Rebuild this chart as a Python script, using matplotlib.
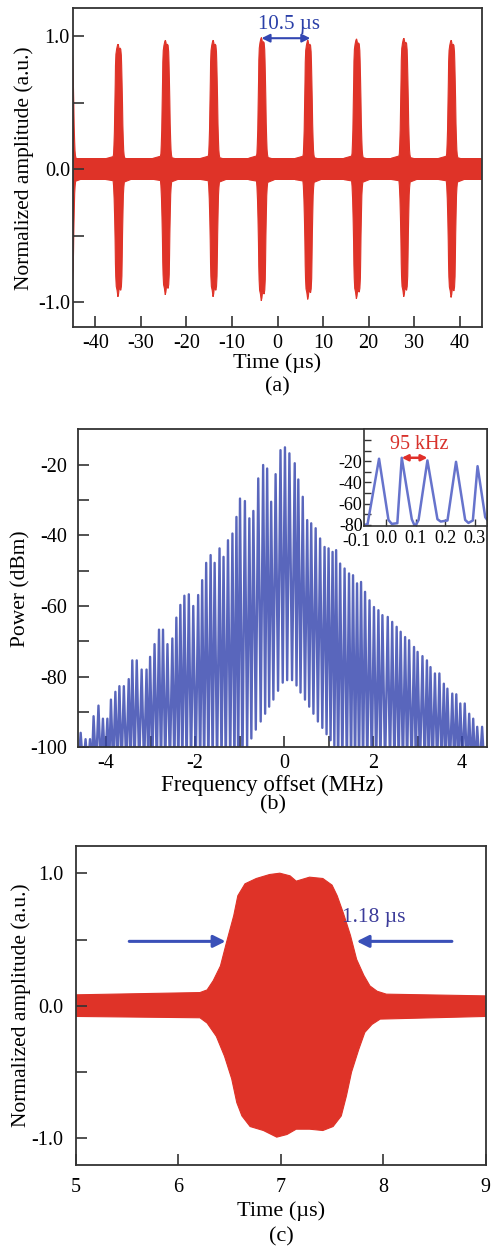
import numpy as np
import matplotlib
matplotlib.use('Agg')
import matplotlib.pyplot as plt

plt.rcParams['font.family'] = ['Liberation Serif', 'DejaVu Serif']
plt.rcParams['axes.unicode_minus'] = False

RED = '#df3328'
BLUE = '#3347b2'

# ---------------- data ----------------
# (c) single pulse envelope (us, a.u.)
c_up_t = [5.0, 6.21, 6.28, 6.34, 6.41, 6.47, 6.54, 6.58, 6.65, 6.76, 6.89, 6.99, 7.09, 7.15,
          7.28, 7.41, 7.50, 7.55, 7.61, 7.68, 7.74, 7.81, 7.87, 7.94, 8.03, 9.0]
c_up = [0.083, 0.10, 0.12, 0.19, 0.30, 0.48, 0.68, 0.83, 0.92, 0.96, 0.99, 1.0, 0.98, 0.94,
        0.97, 0.96, 0.91, 0.83, 0.70, 0.53, 0.35, 0.23, 0.15, 0.11, 0.088, 0.075]
c_lo_t = [5.0, 6.21, 6.28, 6.37, 6.45, 6.52, 6.57, 6.62, 6.70, 6.83, 6.96, 7.06, 7.15, 7.28,
          7.41, 7.51, 7.59, 7.64, 7.69, 7.76, 7.82, 7.89, 7.97, 9.0]
c_lo = [-0.08, -0.09, -0.13, -0.23, -0.38, -0.55, -0.73, -0.83, -0.91, -0.94, -0.99, -0.97,
        -0.93, -0.93, -0.94, -0.91, -0.83, -0.68, -0.50, -0.33, -0.20, -0.14, -0.10, -0.08]
c_pulse_center = 7.08

# (a) pulse train (pulses look ~1.4x broader than (c) at this scale)
a_centers = [-45.6, -34.9, -24.5, -14.0, -3.4, 6.8, 17.5, 27.9, 38.3]
a_tops = [0.93, 0.94, 0.97, 0.97, 0.99, 0.97, 0.98, 0.985, 0.97]
a_bots = [0.90, 0.96, 0.945, 0.96, 0.99, 0.98, 0.975, 0.96, 0.965]
a_width_scale = 1.4
a_base_t = [-45, 45]
a_base_up = [0.085, 0.085]
a_base_lo = [-0.085, -0.085]

# (b) comb spectrum: line frequencies (MHz), peak powers and valleys (dBm)
b_freq = [-4.57, -4.46, -4.36, -4.28, -4.17, -4.07, -3.97, -3.89, -3.79, -3.70, -3.60, -3.49,
          -3.41, -3.31, -3.20, -3.09, -3.01, -2.91, -2.81, -2.72, -2.62, -2.51, -2.42, -2.33,
          -2.24, -2.14, -2.04, -1.93, -1.84, -1.75, -1.65, -1.56, -1.45, -1.36, -1.26, -1.16,
          -1.07, -0.99, -0.88, -0.78, -0.69, -0.58, -0.47, -0.38, -0.29, -0.19, -0.08,
          0.02, 0.12, 0.24, 0.32, 0.42, 0.52, 0.61, 0.71, 0.81, 0.91, 1.00, 1.09, 1.17, 1.26,
          1.36, 1.46, 1.55, 1.64, 1.73, 1.82, 1.92, 2.02, 2.12, 2.21,
          2.33, 2.43, 2.53, 2.62, 2.72, 2.81, 2.92, 3.00, 3.11, 3.21, 3.29, 3.39, 3.49, 3.59,
          3.67, 3.78, 3.87, 3.96, 4.06, 4.16, 4.25, 4.34, 4.45]
b_peak = [-95.9, -97.7, -97.7, -91.2, -88.2, -91.9, -91.9, -86.5, -84.3, -82.7, -82.7, -80.7,
          -75.4, -75.4, -78.0, -78.0, -74.4, -70.8, -66.7, -66.7, -70.8, -69.2, -63.3, -59.7,
          -57.1, -56.7, -60.0, -56.9, -52.7, -47.8, -45.6, -47.8, -43.7, -46.1, -41.4, -39.5,
          -34.8, -29.6, -30.3, -35.2, -33.1, -23.9, -20.1, -21.1, -30.5, -22.7, -15.9,
          -15.1, -16.8, -19.6, -24.2, -29.1, -35.7, -36.6, -38.0, -40.9, -43.3, -43.7, -44.7,
          -44.2, -48.0, -49.4, -50.8, -51.3, -53.6, -53.2, -56.0, -58.4, -60.3, -61.2, -62.6,
          -63.1, -64.5, -65.9, -67.3, -68.8, -69.7, -71.6, -73.0, -74.2, -75.4, -77.3, -79.1,
          -79.1, -82.0, -83.4, -84.8, -85.0, -87.6, -87.6, -90.5, -91.9, -94.2, -94.2]
b_valley = ([-106] * 39
            + [-100, -97.5, -95, -92.7, -90.5, -88.5, -86.5, -84, -81.7, -81, -81, -82.5,
               -84.5, -86.5, -88.5, -90.5, -92.7, -94.5, -96.3, -98, -99.5]
            + [-106] * 35)

# (b) inset trace
in_f = [-0.075, -0.063, -0.024, 0.008, 0.019, 0.038, 0.053, 0.087, 0.098, 0.11, 0.14, 0.174,
        0.185, 0.208, 0.237, 0.268, 0.279, 0.294, 0.31, 0.336, 0.343]
in_p = [-80, -79.3, -17.7, -75.3, -79, -78.4, -16.8, -74.6, -81.6, -75.3, -19.3, -74.6,
        -76.8, -75.8, -20.6, -75.3, -78.1, -75.8, -24.7, -72.7, -75.3]

W, H = 494, 1247
fig = plt.figure(figsize=(W / 100, H / 100), dpi=100)


def box(l, t, r, b):
    return [l / W, 1 - b / H, (r - l) / W, (b - t) / H]


def style(ax, pad_x, pad_y):
    for s in ax.spines.values():
        s.set_color('#333333')
        s.set_linewidth(1.3)
    ax.tick_params(direction='in', length=8, width=1.2, color='#333333',
                   labelsize=14.5, top=False, right=False)
    ax.tick_params(axis='x', pad=pad_x)
    ax.tick_params(axis='y', pad=pad_y)


# ---------------- (a) ----------------
ax1 = fig.add_axes(box(72.7, 8.3, 482.3, 327.3))
ax1.fill_between(a_base_t, a_base_lo, a_base_up, color=RED, lw=0)
up_t = (np.array(c_up_t) - c_pulse_center) * a_width_scale
lo_t = (np.array(c_lo_t) - c_pulse_center) * a_width_scale
for c, top, bot in zip(a_centers, a_tops, a_bots):
    px = np.r_[c + up_t, (c + lo_t)[::-1]]
    py = np.r_[np.array(c_up) * top, (np.array(c_lo) * bot / 0.99)[::-1]]
    ax1.fill(px, py, color=RED, lw=0.8)
ax1.set_xlim(-45, 45)
ax1.set_ylim(-1.19, 1.21)
ax1.set_xticks(range(-40, 41, 10))
ax1.set_yticks([-1, -0.5, 0, 0.5, 1])
ax1.set_yticklabels(['-1.0', '', '0.0', '', '1.0'])
style(ax1, 5, 2)
ax1.annotate('', xy=(-3.5, 0.985), xytext=(7.2, 0.985),
             arrowprops=dict(arrowstyle='<|-|>', color=BLUE, lw=1.5, mutation_scale=12,
                             shrinkA=0, shrinkB=0))
ax1.text(2.45, 1.09, '10.5 µs', color='#2a3fa8', fontsize=15, ha='center', va='center')
ax1.set_xlabel('Time (µs)', fontsize=16)
ax1.xaxis.set_label_coords(0.5, -0.08)
ax1.set_ylabel('Normalized amplitude (a.u.)', fontsize=15.5)
ax1.yaxis.set_label_coords(-0.095, 0.5)
fig.text(277.5 / W, 1 - 387 / H, '(a)', fontsize=16, ha='center', va='center')

# ---------------- (b) ----------------
ax2 = fig.add_axes(box(78, 429.3, 487, 747.3))
f = np.array(b_freq)
mid = (f[:-1] + f[1:]) / 2
vx = np.r_[f[0] - 0.05, mid, f[-1] + 0.05]
tx = np.empty(2 * len(f) + 1)
ty = np.empty(2 * len(f) + 1)
tx[0::2] = vx
tx[1::2] = f
ty[0::2] = b_valley
ty[1::2] = b_peak
ax2.plot(tx, ty, color='#3444ad', lw=1.7, alpha=0.82)
ax2.set_xlim(-4.63, 4.56)
ax2.set_ylim(-100, -10)
ax2.set_xticks(range(-4, 5))
ax2.set_xticklabels(['-4', '', '-2', '', '0', '', '2', '', '4'])
ax2.set_yticks(range(-100, -19, 10))
ax2.set_yticklabels(['-100', '', '-80', '', '-60', '', '-40', '', '-20'])
style(ax2, 5, 8)
ax2.set_xlabel('Frequency offset (MHz)', fontsize=16.5)
ax2.xaxis.set_label_coords(0.475, -0.085)
ax2.set_ylabel('Power (dBm)', fontsize=15.5)
ax2.yaxis.set_label_coords(-0.115, 0.5)
fig.text(273 / W, 1 - 805 / H, '(b)', fontsize=16, ha='center', va='center')

# inset
ax3 = fig.add_axes(box(364, 429.3, 487, 526))
ax3.set_facecolor('white')
ax3.plot(in_f, in_p, color='#6673cc', lw=1.8)
ax3.set_xlim(-0.075, 0.342)
ax3.set_ylim(-81, 10)
ax3.set_xticks([0, 0.1, 0.2, 0.3])
ax3.set_xticklabels(['0.0', '0.1', '0.2', '0.3'])
ax3.set_yticks(range(-80, 1, 10))
ax3.set_yticklabels(['-80', '', '-60', '', '-40', '', '-20', '', ''])
for s in ax3.spines.values():
    s.set_color('#333333')
    s.set_linewidth(1.2)
ax3.tick_params(direction='in', length=5, width=1.0, color='#333333', labelsize=13, pad=1)
ax3.tick_params(axis='x', pad=3)
ax3.text(-0.1, -0.075, '-0.1', transform=ax3.get_xaxis_transform(), fontsize=13,
         ha='center', va='top')
ax3.annotate('', xy=(0.053, -16.8), xytext=(0.14, -16.8),
             arrowprops=dict(arrowstyle='<|-|>', color='#e0302a', lw=1.8, mutation_scale=9,
                             shrinkA=0, shrinkB=0))
ax3.text(0.112, -4, '95 kHz', color='#d8322c', fontsize=14.5, ha='center', va='center')

# ---------------- (c) ----------------
ax4 = fig.add_axes(box(76, 846, 485.7, 1165))
ax4.fill(np.r_[c_up_t, c_lo_t[::-1]], np.r_[c_up, c_lo[::-1]], color=RED, lw=0.8)
ax4.set_xlim(5, 9)
ax4.set_ylim(-1.2, 1.205)
ax4.set_xticks([5, 6, 7, 8, 9])
ax4.set_yticks([-1, -0.5, 0, 0.5, 1])
ax4.set_yticklabels(['-1.0', '', '0.0', '', '1.0'])
style(ax4, 9, 9)
arrow_c = dict(arrowstyle='-|>', color='#3a50b8', lw=2.2, mutation_scale=18,
               shrinkA=0, shrinkB=0)
ax4.annotate('', xy=(6.46, 0.486), xytext=(5.52, 0.486), arrowprops=arrow_c)
ax4.annotate('', xy=(7.74, 0.486), xytext=(8.67, 0.486), arrowprops=arrow_c)
ax4.text(7.595, 0.667, '1.18 µs', color='#3c3c9a', fontsize=15.5, ha='left', va='center')
ax4.set_xlabel('Time (µs)', fontsize=16)
ax4.xaxis.set_label_coords(0.5, -0.115)
ax4.set_ylabel('Normalized amplitude (a.u.)', fontsize=15.5)
ax4.yaxis.set_label_coords(-0.11, 0.5)
fig.text(281 / W, 1 - 1237 / H, '(c)', fontsize=16, ha='center', va='center')

fig.savefig('out.png', dpi=100)
